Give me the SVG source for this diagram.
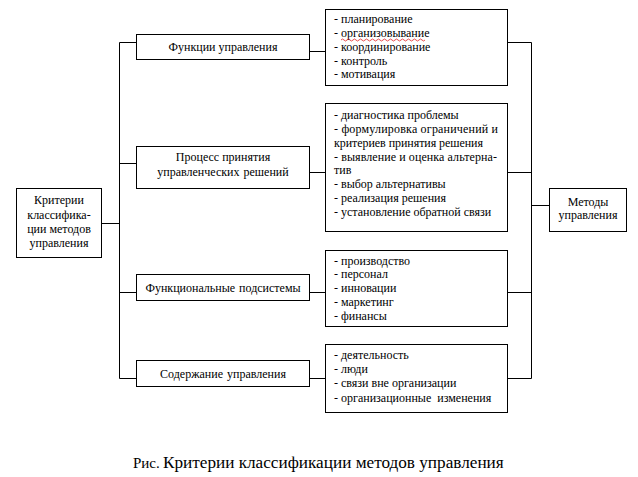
<svg xmlns="http://www.w3.org/2000/svg" width="638" height="477" viewBox="0 0 638 477">
<style>
  .box{fill:#fff;stroke:#000;stroke-width:1}
  .ln{fill:none;stroke:#000;stroke-width:1}
  text{font-family:"Liberation Serif","Times New Roman",serif;font-size:12px;fill:#000}
  .c{text-anchor:middle}
</style>
<rect width="638" height="477" fill="#fff"/>
<g id="connectors">
  <path class="ln" d="M102 223.5H119.5M119.5 42.5V378.5M119.5 42.5H136.5M119.5 163.5H136.5M119.5 292.5H136.5M119.5 378.5H136.5"/>
  <path class="ln" d="M309.5 51.5H325.5M309.5 172.5H325.5M309.5 292.5H325.5M309.5 378.5H325.5"/>
  <path class="ln" d="M507.5 42.5H531.5M507.5 172.5H531.5M507.5 292.5H531.5M507.5 378.5H531.5M531.5 42.5V378.5M531.5 205.5H549.5"/>
</g>
<g id="criteria">
  <rect class="box" x="16.5" y="188.5" width="85" height="69"/>
  <text class="c" x="59" y="204">Критерии</text>
  <text class="c" x="59" y="219">классифика-</text>
  <text class="c" x="59" y="233">ции методов</text>
  <text class="c" x="59" y="247">управления</text>
</g>
<g id="functions">
  <rect class="box" x="136.5" y="34.5" width="173" height="25"/>
  <text class="c" x="223" y="51">Функции управления</text>
</g>
<g id="process">
  <rect class="box" x="136.5" y="146.5" width="173" height="42"/>
  <text class="c" x="223" y="161">Процесс принятия</text>
  <text class="c" x="223" y="176" word-spacing="1">управленческих решений</text>
</g>
<g id="subsystems">
  <rect class="box" x="136.5" y="274.5" width="173" height="26"/>
  <text class="c" x="223" y="292" word-spacing="1">Функциональные подсистемы</text>
</g>
<g id="content">
  <rect class="box" x="136.5" y="360.5" width="173" height="26"/>
  <text class="c" x="223" y="378" word-spacing="1">Содержание управления</text>
</g>
<g id="list-functions">
  <rect class="box" x="325.5" y="9.5" width="182" height="76"/>
  <text x="334" y="23">- планирование</text>
  <text x="334" y="37">- организовывание</text>
  <path d="M341 40 q1.5 -2 3 0 t3 0 t3 0 t3 0 t3 0 t3 0 t3 0 t3 0 t3 0 t3 0 t3 0 t3 0 t3 0 t3 0 t3 0 t3 0 t3 0 t3 0 t3 0 t3 0 t3 0 t3 0 t3 0 t3 0 t3 0 t3 0 t3 0 t3 0" fill="none" stroke="#e02020" stroke-width="0.8"/>
  <text x="334" y="51">- координирование</text>
  <text x="334" y="65">- контроль</text>
  <text x="334" y="78">- мотивация</text>
</g>
<g id="list-process">
  <rect class="box" x="325.5" y="103.5" width="182" height="128"/>
  <text x="334" y="119">- диагностика проблемы</text>
  <text x="334" y="133" textLength="164" lengthAdjust="spacing">- формулировка ограничений и</text>
  <text x="334" y="147" textLength="149" lengthAdjust="spacing">критериев принятия решения</text>
  <text x="334" y="161" textLength="163" lengthAdjust="spacing">- выявление и оценка альтерна-</text>
  <text x="334" y="174">тив</text>
  <text x="334" y="188">- выбор альтернативы</text>
  <text x="334" y="202">- реализация решения</text>
  <text x="334" y="216">- установление обратной связи</text>
</g>
<g id="list-subsystems">
  <rect class="box" x="325.5" y="250.5" width="182" height="76"/>
  <text x="334" y="265">- производство</text>
  <text x="334" y="278">- персонал</text>
  <text x="334" y="292">- инновации</text>
  <text x="334" y="306">- маркетинг</text>
  <text x="334" y="320">- финансы</text>
</g>
<g id="list-content">
  <rect class="box" x="325.5" y="344.5" width="182" height="68"/>
  <text x="334" y="359">- деятельность</text>
  <text x="334" y="373">- люди</text>
  <text x="334" y="387">- связи вне организации</text>
  <text x="334" y="402">- организационные <tspan dx="3">изменения</tspan></text>
</g>
<g id="methods">
  <rect class="box" x="549.5" y="188.5" width="77" height="43"/>
  <text class="c" x="588" y="206">Методы</text>
  <text class="c" x="588" y="219">управления</text>
</g>
<g id="caption">
  <text x="133" y="468" style="font-size:15px">Рис.</text>
  <text x="163" y="468" style="font-size:17.2px">Критерии классификации методов управления</text>
</g>
</svg>
